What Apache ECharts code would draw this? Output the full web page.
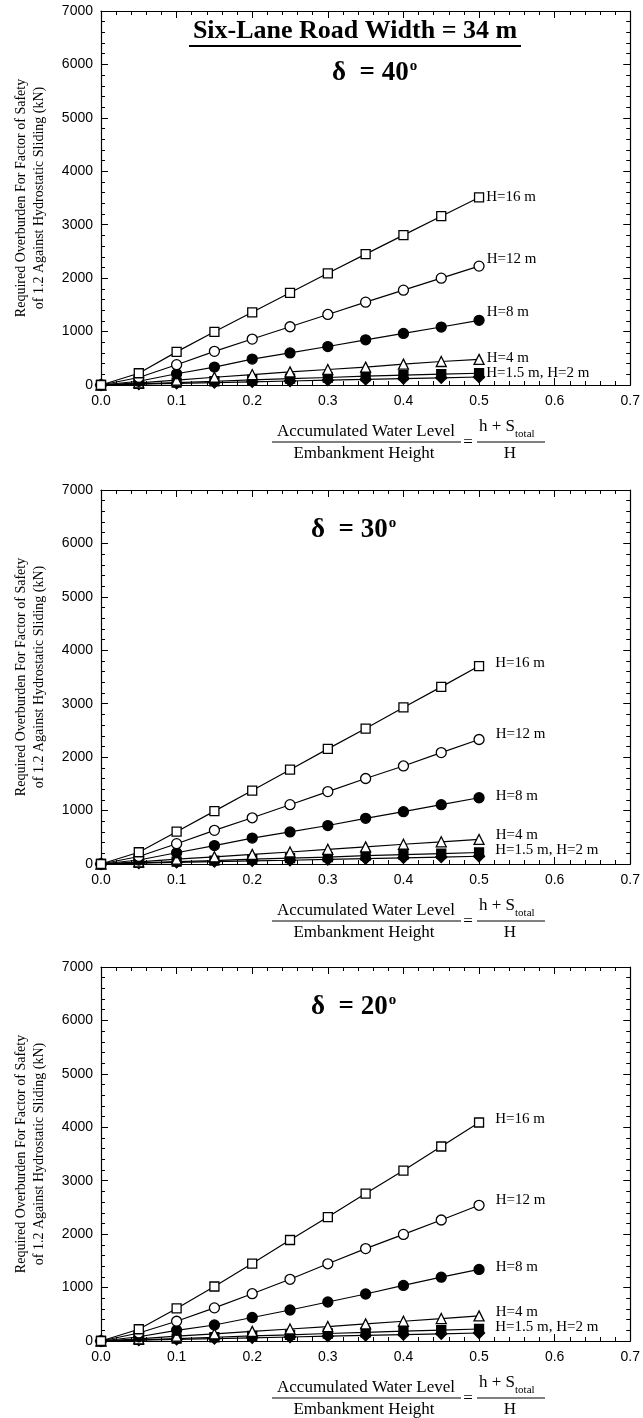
<!DOCTYPE html>
<html>
<head>
<meta charset="utf-8">
<style>
  html, body { margin: 0; padding: 0; background: #fff; }
  #chart { width: 643px; height: 1418px; }
</style>
<script src="https://cdn.jsdelivr.net/npm/echarts@6/dist/echarts.min.js"></script>
</head>
<body>
<div id="chart"></div>
<script>
// Normalised water level (h + S_total) / H
const waterLevel = [0, 0.05, 0.1, 0.15, 0.2, 0.25, 0.3, 0.35, 0.4, 0.45, 0.5];
const xTicks = [0, 0.1, 0.2, 0.3, 0.4, 0.5, 0.6, 0.7];
const yTicks = [0, 1000, 2000, 3000, 4000, 5000, 6000, 7000];

// Required overburden (kN), delta = 40 deg
const d40_H16 = [0, 220, 620, 995, 1360, 1725, 2090, 2450, 2805, 3160, 3510];
const d40_H12 = [0, 140, 380, 630, 860, 1090, 1320, 1550, 1775, 2000, 2225];
const d40_H8  = [0, 70, 210, 335, 485, 600, 720, 845, 965, 1085, 1210];
const d40_H4  = [0, 40, 90, 145, 195, 245, 290, 335, 390, 440, 480];
const d40_H2  = [0, 20, 45, 70, 95, 120, 140, 165, 185, 205, 220];
const d40_H15 = [0, 15, 30, 45, 60, 75, 90, 105, 120, 135, 150];

// Required overburden (kN), delta = 30 deg
const d30_H16 = [0, 220, 605, 990, 1375, 1765, 2155, 2535, 2930, 3315, 3705];
const d30_H12 = [0, 140, 380, 630, 865, 1110, 1355, 1600, 1835, 2085, 2330];
const d30_H8  = [0, 75, 210, 345, 485, 600, 720, 855, 980, 1110, 1240];
const d30_H4  = [0, 40, 90, 135, 180, 225, 275, 320, 370, 415, 460];
const d30_H2  = [0, 20, 45, 65, 90, 110, 130, 155, 175, 195, 215];
const d30_H15 = [0, 15, 30, 45, 60, 70, 85, 100, 115, 130, 145];

// Required overburden (kN), delta = 20 deg
const d20_H16 = [0, 220, 610, 1020, 1450, 1890, 2320, 2760, 3190, 3640, 4090];
const d20_H12 = [0, 150, 370, 620, 885, 1155, 1445, 1730, 1995, 2265, 2540];
const d20_H8  = [0, 80, 200, 300, 440, 580, 730, 880, 1040, 1195, 1340];
const d20_H4  = [0, 40, 90, 135, 180, 225, 270, 320, 370, 420, 470];
const d20_H2  = [0, 20, 45, 70, 95, 115, 140, 160, 185, 205, 225];
const d20_H15 = [0, 15, 30, 45, 60, 75, 90, 105, 120, 135, 150];

const seriesNames = ['H=16 m', 'H=12 m', 'H=8 m', 'H=4 m', 'H=1.5 m, H=2 m', 'H=1.5 m'];
const deltaValues = ['40', '30', '20'];

const SERIF = '"Liberation Serif", "Times New Roman", serif';
const SANS = '"Liberation Sans", Arial, sans-serif';

const PLOT_H = 374;
const PLOT_LEFT = 101;
const PLOT_RIGHT = 10;

const panels = [
  { top: 11,  sets: [d40_H16, d40_H12, d40_H8, d40_H4, d40_H2, d40_H15],
    labelGap: 2, labelDy: [0, -7, -8, -1, 0], deltaX: 332, deltaY: 61 },
  { top: 490, sets: [d30_H16, d30_H12, d30_H8, d30_H4, d30_H2, d30_H15],
    labelGap: 11, labelDy: [-3, -5, -2, -4, -2], deltaX: 311, deltaY: 39 },
  { top: 967, sets: [d20_H16, d20_H12, d20_H8, d20_H4, d20_H2, d20_H15],
    labelGap: 11, labelDy: [-3, -5, -2, -4, -2], deltaX: 311, deltaY: 39 }
];

// marker style per curve: symbol, filled?, size
const markers = [
  { symbol: 'rect', filled: false, size: 9 },
  { symbol: 'circle', filled: false, size: 10 },
  { symbol: 'circle', filled: true, size: 10 },
  { symbol: 'triangle', filled: false, size: 10 },
  { symbol: 'rect', filled: true, size: 9 },
  { symbol: 'diamond', filled: true, size: 11 }
];

const grid = [], xAxis = [], yAxis = [], series = [], graphic = [];

function frameAxis() {
  return {
    axisLine: { show: true, onZero: false, lineStyle: { color: '#000', width: 1.2 } },
    axisTick: { show: true, inside: true, length: 7, lineStyle: { color: '#000', width: 1 } },
    minorTick: { show: true, splitNumber: 5, length: 4, lineStyle: { color: '#000', width: 1 } },
    splitLine: { show: false }
  };
}

panels.forEach((p, pi) => {
  grid.push({ left: PLOT_LEFT, right: PLOT_RIGHT, top: p.top, height: PLOT_H });

  const xRange = { min: xTicks[0], max: xTicks[xTicks.length - 1], interval: 0.1 };
  const yRange = { min: yTicks[0], max: yTicks[yTicks.length - 1], interval: 1000 };

  xAxis.push(Object.assign({
    type: 'value', gridIndex: pi, position: 'bottom',
    axisLabel: {
      color: '#000', fontFamily: SANS, fontSize: 14, margin: 9,
      formatter: v => v.toFixed(1)
    }
  }, xRange, frameAxis()));
  xAxis.push(Object.assign({
    type: 'value', gridIndex: pi, position: 'top',
    axisLabel: { show: false }
  }, xRange, frameAxis()));

  yAxis.push(Object.assign({
    type: 'value', gridIndex: pi, position: 'left',
    axisLabel: { color: '#000', fontFamily: SANS, fontSize: 14, margin: 8, formatter: v => String(v) }
  }, yRange, frameAxis()));
  yAxis.push(Object.assign({
    type: 'value', gridIndex: pi, position: 'right',
    axisLabel: { show: false }
  }, yRange, frameAxis()));

  // curves: smallest first so the large open markers sit on top
  for (let si = p.sets.length - 1; si >= 0; si--) {
    const vals = p.sets[si];
    const m = markers[si];
    const last = vals.length - 1;
    const showLabel = si !== 5;
    const data = vals.map((v, i) => {
      if (i === last && showLabel) {
        return {
          value: [waterLevel[i], v],
          label: {
            show: true, position: 'right', distance: p.labelGap,
            formatter: seriesNames[si],
            color: '#000', fontFamily: SERIF, fontSize: 15,
            offset: [0, p.labelDy[si]]
          }
        };
      }
      return [waterLevel[i], v];
    });
    series.push({
      type: 'line', name: seriesNames[si],
      xAxisIndex: pi * 2, yAxisIndex: pi * 2,
      data: data,
      symbol: m.symbol, symbolSize: m.size, showAllSymbol: true,
      lineStyle: { color: '#000', width: 1.2 },
      itemStyle: {
        color: m.filled ? '#000' : '#fff',
        borderColor: '#000', borderWidth: 1.3
      },
      emphasis: { disabled: true },
      animation: false, z: 3
    });
  }

  // y axis name (two lines)
  const midY = p.top + PLOT_H / 2;
  graphic.push({
    type: 'text', x: 30, y: midY, rotation: Math.PI / 2,
    style: {
      text: 'Required Overburden For Factor of Safety\nof 1.2 Against Hydrostatic Sliding (kN)',
      font: '14px ' + SERIF, fill: '#000',
      align: 'center', verticalAlign: 'middle', lineHeight: 18
    }
  });

  // delta annotation
  graphic.push({
    type: 'text', x: p.deltaX, y: p.top + p.deltaY,
    style: {
      text: '{a|\u03b4  = ' + deltaValues[pi] + '}{s|o}',
      align: 'left', verticalAlign: 'middle',
      rich: {
        a: { font: 'bold 27px ' + SERIF, fill: '#000', lineHeight: 30, verticalAlign: 'bottom' },
        s: { font: 'bold 15px ' + SERIF, fill: '#000', lineHeight: 30, verticalAlign: 'top', padding: [2, 0, 0, 1] }
      }
    }
  });

  // x axis title: fraction = (h + S_total) / H
  const base = p.top + PLOT_H;
  const fy = base + 57;
  graphic.push({
    type: 'text', x: 366, y: fy - 2,
    style: { text: 'Accumulated Water Level', font: '17px ' + SERIF, fill: '#000', align: 'center', verticalAlign: 'bottom' }
  });
  graphic.push({
    type: 'line', shape: { x1: 272, y1: fy, x2: 461, y2: fy },
    style: { stroke: '#000', lineWidth: 1 }
  });
  graphic.push({
    type: 'text', x: 364, y: fy + 3,
    style: { text: 'Embankment Height', font: '17px ' + SERIF, fill: '#000', align: 'center', verticalAlign: 'top' }
  });
  graphic.push({
    type: 'text', x: 468, y: fy + 1,
    style: { text: '=', font: '17px ' + SERIF, fill: '#000', align: 'center', verticalAlign: 'middle' }
  });
  graphic.push({
    type: 'text', x: 479, y: fy - 2,
    style: {
      text: '{m|h + S}{b|total}',
      align: 'left', verticalAlign: 'bottom',
      rich: {
        m: { font: '17px ' + SERIF, fill: '#000', lineHeight: 22, verticalAlign: 'top' },
        b: { font: '11px ' + SERIF, fill: '#000', lineHeight: 22, verticalAlign: 'bottom' }
      }
    }
  });
  graphic.push({
    type: 'line', shape: { x1: 477, y1: fy, x2: 545, y2: fy },
    style: { stroke: '#000', lineWidth: 1 }
  });
  graphic.push({
    type: 'text', x: 510, y: fy + 3,
    style: { text: 'H', font: '17px ' + SERIF, fill: '#000', align: 'center', verticalAlign: 'top' }
  });
});

// headline of the first panel, underlined
graphic.push({
  type: 'text', x: 355, y: 44,
  style: { text: 'Six-Lane Road Width = 34 m', font: 'bold 26px ' + SERIF, fill: '#000', align: 'center', verticalAlign: 'bottom' }
});
graphic.push({
  type: 'line', shape: { x1: 189, y1: 46, x2: 521, y2: 46 },
  style: { stroke: '#000', lineWidth: 2 }
});

const chart = echarts.init(document.getElementById('chart'), null, { renderer: 'canvas' });
chart.setOption({
  animation: false,
  backgroundColor: '#fff',
  grid: grid,
  xAxis: xAxis,
  yAxis: yAxis,
  series: series,
  graphic: graphic
});
</script>
</body>
</html>
